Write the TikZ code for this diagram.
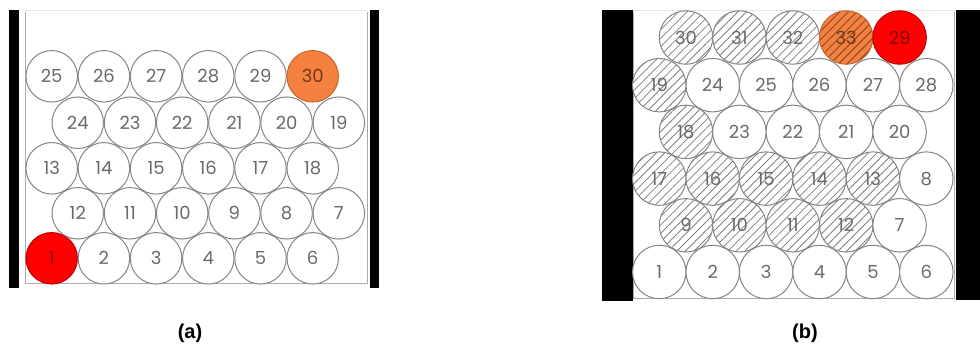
\documentclass[tikz,border=0pt]{standalone}
\usepackage{fontspec}
\newfontfamily\ballfont{Poppins}
\newfontfamily\capfont{Liberation Sans}
\usetikzlibrary{patterns.meta}

\definecolor{ballred}{HTML}{FF0000}
\definecolor{ballorange}{HTML}{F4813F}
\definecolor{rimgray}{HTML}{858585}
\definecolor{numgray}{HTML}{6A6A6A}

\begin{document}
\begin{tikzpicture}[
  x=1pt, y=-1pt,
  ball/.style={circle, draw=rimgray, line width=1pt, fill=white, inner sep=0pt, outer sep=0pt,
    minimum size=51.5pt, font=\ballfont\fontsize{18}{18}\selectfont, text=numgray},
  bigball/.style={ball, minimum size=53.5pt},
  plain/.style={},
  redball/.style={fill=ballred, draw=ballred!75!black, text=ballred!50!black},
  orangeball/.style={fill=ballorange, draw=ballorange!80!black, text=ballorange!45!black},
  hatchball/.style={preaction={fill=white}, pattern={Lines[angle=45, distance=6pt, line width=0.8pt]}, pattern color=gray},
  orangehatch/.style={orangeball, preaction={fill=ballorange}, pattern={Lines[angle=45, distance=6pt, line width=0.8pt]}, pattern color=ballorange!50!black},
  wall/.style={fill=black},
  rim/.style={draw=gray!65, line width=0.9pt},
  toprim/.style={draw=gray!20, line width=0.8pt},
  caption/.style={font=\capfont\bfseries\fontsize{20}{20}\selectfont},
]
\useasboundingbox (0,0) rectangle (980,351);

% container (a)
\fill[wall] (9,10) rectangle (19,288);
\fill[wall] (370,10) rectangle (379,288);
\draw[toprim] (25,10.5) -- (367,10.5);
\draw[rim] (25,12) -- (25,283.5) -- (367,283.5) -- (367,12);

% balls (a), bottom row first
\foreach \n/\s [count=\k from 0] in {1/redball,2/plain,3/plain,4/plain,5/plain,6/plain}
  \node[ball,\s] (a\n) at (51.7+52.2*\k, 258.3) {\n};
\foreach \n/\s [count=\k from 0] in {12/plain,11/plain,10/plain,9/plain,8/plain,7/plain}
  \node[ball,\s] (a\n) at (77.8+52.2*\k, 213.3) {\n};
\foreach \n/\s [count=\k from 0] in {13/plain,14/plain,15/plain,16/plain,17/plain,18/plain}
  \node[ball,\s] (a\n) at (51.7+52.2*\k, 168.3) {\n};
\foreach \n/\s [count=\k from 0] in {24/plain,23/plain,22/plain,21/plain,20/plain,19/plain}
  \node[ball,\s] (a\n) at (77.8+52.2*\k, 122.7) {\n};
\foreach \n/\s [count=\k from 0] in {25/plain,26/plain,27/plain,28/plain,29/plain,30/orangeball}
  \node[ball,\s] (a\n) at (51.7+52.2*\k, 76.3) {\n};

% container (b)
\fill[wall] (602,10) rectangle (632.5,300.5);
\fill[wall] (956,9.5) rectangle (980,300);
\draw[toprim] (633.5,10.5) -- (955,10.5);
\draw[rim] (633.5,12) -- (633.5,298) -- (954,298) -- (954,12);

% balls (b), bottom row first
\foreach \n/\s [count=\k from 0] in {1/plain,2/plain,3/plain,4/plain,5/plain,6/plain}
  \node[bigball,\s] (b\n) at (659.3+53.4*\k, 272) {\n};
\foreach \n/\s [count=\k from 0] in {9/hatchball,10/hatchball,11/hatchball,12/hatchball,7/plain}
  \node[bigball,\s] (b\n) at (686+53.4*\k, 225.3) {\n};
\foreach \n/\s [count=\k from 0] in {17/hatchball,16/hatchball,15/hatchball,14/hatchball,13/hatchball,8/plain}
  \node[bigball,\s] (b\n) at (659.3+53.4*\k, 178.6) {\n};
\foreach \n/\s [count=\k from 0] in {18/hatchball,23/plain,22/plain,21/plain,20/plain}
  \node[bigball,\s] (b\n) at (686+53.4*\k, 131.9) {\n};
\foreach \n/\s [count=\k from 0] in {19/hatchball,24/plain,25/plain,26/plain,27/plain,28/plain}
  \node[bigball,\s] (b\n) at (659.3+53.4*\k, 85.2) {\n};
\foreach \n/\s [count=\k from 0] in {30/hatchball,31/hatchball,32/hatchball,33/orangehatch,29/redball}
  \node[bigball,\s] (b\n) at (686+53.4*\k, 37.5) {\n};

% captions
\node[caption] (capa) at (190,333) {(a)};
\node[caption] (capb) at (805,333) {(b)};
\end{tikzpicture}
\end{document}
